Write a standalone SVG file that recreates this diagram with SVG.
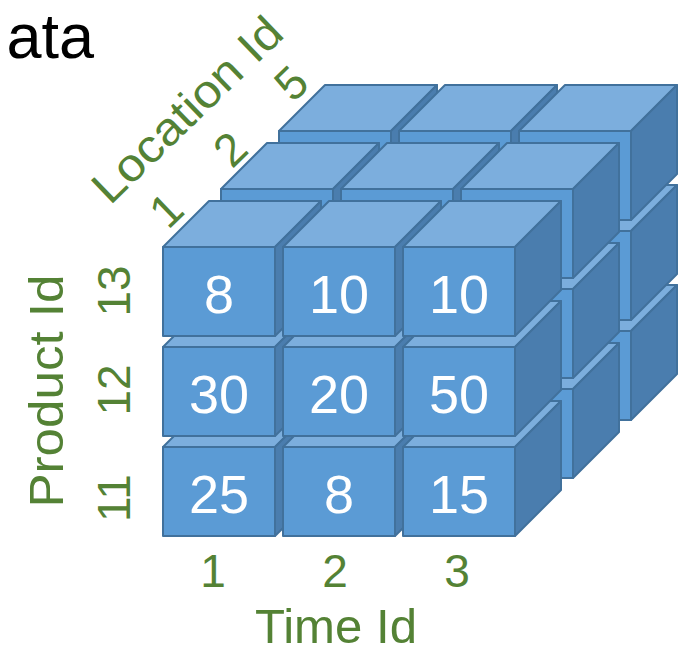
<svg xmlns="http://www.w3.org/2000/svg" xmlns:xlink="http://www.w3.org/1999/xlink" width="692" height="654" viewBox="0 0 692 654">
<style>
.top{fill:#7CAEDD;stroke:#41719C;stroke-width:2;stroke-linejoin:round}
.side{fill:#4A7DAE;stroke:#41719C;stroke-width:2;stroke-linejoin:round}
.front{fill:#5B9BD5;stroke:#41719C;stroke-width:2;stroke-linejoin:round}
.val{font-family:"Liberation Sans",Arial,sans-serif;font-size:54px;fill:#FFFFFF;text-anchor:middle}
.lbl{font-family:"Liberation Sans",Arial,sans-serif;fill:#548235;text-anchor:middle}
.num{font-size:46px}
.axis{font-size:48px}
</style>
<defs>
<g id="cube">
<polygon class="top" points="0,0 46,-46 158,-46 112,0"/>
<polygon class="side" points="112,0 158,-46 158,43 112,89"/>
<rect class="front" x="0" y="0" width="112" height="89"/>
</g>
</defs>
<text x="94" y="58" style="font-family:'Liberation Sans',Arial,sans-serif;font-size:63px;fill:#000;text-anchor:end">ata</text>
<g id="layer-loc5">
<use id="c-5-11-1" xlink:href="#cube" x="279" y="331"/>
<use id="c-5-11-2" xlink:href="#cube" x="399" y="331"/>
<use id="c-5-11-3" xlink:href="#cube" x="519" y="331"/>
<use id="c-5-12-1" xlink:href="#cube" x="279" y="231"/>
<use id="c-5-12-2" xlink:href="#cube" x="399" y="231"/>
<use id="c-5-12-3" xlink:href="#cube" x="519" y="231"/>
<use id="c-5-13-1" xlink:href="#cube" x="279" y="131"/>
<use id="c-5-13-2" xlink:href="#cube" x="399" y="131"/>
<use id="c-5-13-3" xlink:href="#cube" x="519" y="131"/>
</g>
<g id="layer-loc2">
<use id="c-2-11-1" xlink:href="#cube" x="221" y="389"/>
<use id="c-2-11-2" xlink:href="#cube" x="341" y="389"/>
<use id="c-2-11-3" xlink:href="#cube" x="461" y="389"/>
<use id="c-2-12-1" xlink:href="#cube" x="221" y="289"/>
<use id="c-2-12-2" xlink:href="#cube" x="341" y="289"/>
<use id="c-2-12-3" xlink:href="#cube" x="461" y="289"/>
<use id="c-2-13-1" xlink:href="#cube" x="221" y="189"/>
<use id="c-2-13-2" xlink:href="#cube" x="341" y="189"/>
<use id="c-2-13-3" xlink:href="#cube" x="461" y="189"/>
</g>
<g id="layer-loc1">
<g id="c-1-11-1"><use xlink:href="#cube" x="163" y="447"/><text class="val" x="219" y="513">25</text></g>
<g id="c-1-11-2"><use xlink:href="#cube" x="283" y="447"/><text class="val" x="339" y="513">8</text></g>
<g id="c-1-11-3"><use xlink:href="#cube" x="403" y="447"/><text class="val" x="459" y="513">15</text></g>
<g id="c-1-12-1"><use xlink:href="#cube" x="163" y="347"/><text class="val" x="219" y="413">30</text></g>
<g id="c-1-12-2"><use xlink:href="#cube" x="283" y="347"/><text class="val" x="339" y="413">20</text></g>
<g id="c-1-12-3"><use xlink:href="#cube" x="403" y="347"/><text class="val" x="459" y="413">50</text></g>
<g id="c-1-13-1"><use xlink:href="#cube" x="163" y="247"/><text class="val" x="219" y="313">8</text></g>
<g id="c-1-13-2"><use xlink:href="#cube" x="283" y="247"/><text class="val" x="339" y="313">10</text></g>
<g id="c-1-13-3"><use xlink:href="#cube" x="403" y="247"/><text class="val" x="459" y="313">10</text></g>
</g>
<g id="labels">
<text class="lbl num" x="213" y="587">1</text>
<text class="lbl num" x="335" y="587">2</text>
<text class="lbl num" x="457" y="587">3</text>
<text class="lbl" x="336" y="643" style="font-size:48px" textLength="162" lengthAdjust="spacingAndGlyphs">Time Id</text>
<text class="lbl num" transform="translate(114,291) rotate(-90)" y="16">13</text>
<text class="lbl num" transform="translate(114,390) rotate(-90)" y="16">12</text>
<text class="lbl num" transform="translate(114,498) rotate(-90)" y="16">11</text>
<text class="lbl axis" transform="translate(63,391) rotate(-90)" textLength="233" lengthAdjust="spacingAndGlyphs">Product Id</text>
<text class="lbl num" transform="translate(166,210) rotate(-44)" y="16">1</text>
<text class="lbl num" transform="translate(230,149) rotate(-44)" y="16">2</text>
<text class="lbl num" transform="translate(291,83) rotate(-44)" y="16">5</text>
<text class="lbl" style="font-size:46px" transform="translate(198,121) rotate(-44)" textLength="245" lengthAdjust="spacingAndGlyphs">Location Id</text>
</g>
</svg>
